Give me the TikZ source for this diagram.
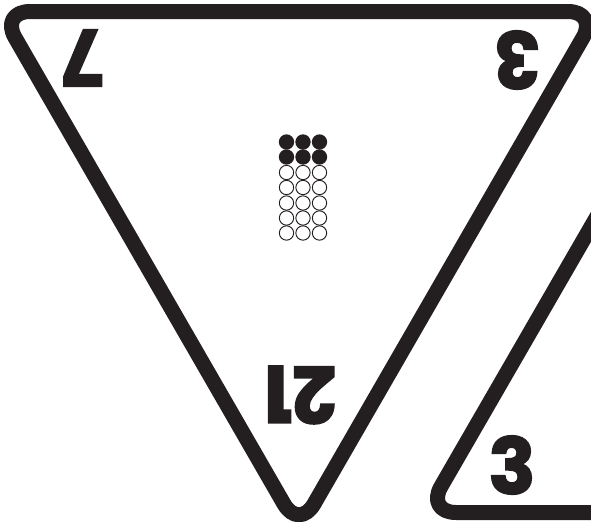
\documentclass[tikz,border=0pt]{standalone}
\usepackage{fontspec}
\setmainfont{Poppins}
\newfontfamily\digitfont[BoldFeatures={FakeBold=2.5}]{Poppins}
\definecolor{ink}{RGB}{35,31,32}

\begin{document}
\begin{tikzpicture}[x=0.03cm,y=-0.03cm]
    \tikzset{
	rim/.style={ink,line width=0.45cm,rounded corners=0.9cm,line join=round},
	numeral/.style={ink,inner sep=0pt,font=\digitfont\fontsize{66}{66}\selectfont\bfseries},
	fulldot/.style={circle,fill=ink,inner sep=0pt,minimum size=0.46cm},
	emptydot/.style={circle,draw=ink,line width=0.8pt,inner sep=0pt,minimum size=0.43cm}
    }
    \clip (0,0) rectangle (591,521);
    \draw[rim] (299,530) -- (0,11.5) -- (598,11.5) -- cycle;
    \draw[rim] (726,-7) -- (426,512.5) -- (1026,512.5) -- cycle;
    \node[numeral,rotate=180] (seven) at (83,58) {7};
    \node[numeral,rotate=180] (three) at (517,60) {3};
    \node[numeral,rotate=180] (twentyone) at (300,395) {21};
    \node[numeral] (threeb) at (512,465) {3};
    \node[fulldot] (a1) at (286.5,142) {};
    \node[fulldot] (a2) at (303,142) {};
    \node[fulldot] (a3) at (319.5,142) {};
    \node[fulldot] (b1) at (286.5,157) {};
    \node[fulldot] (b2) at (303,157) {};
    \node[fulldot] (b3) at (319.5,157) {};
    \node[emptydot] (c1) at (286.5,172.5) {};
    \node[emptydot] (c2) at (303,172.5) {};
    \node[emptydot] (c3) at (319.5,172.5) {};
    \node[emptydot] (d1) at (286.5,187.5) {};
    \node[emptydot] (d2) at (303,187.5) {};
    \node[emptydot] (d3) at (319.5,187.5) {};
    \node[emptydot] (e1) at (286.5,203) {};
    \node[emptydot] (e2) at (303,203) {};
    \node[emptydot] (e3) at (319.5,203) {};
    \node[emptydot] (f1) at (286.5,218) {};
    \node[emptydot] (f2) at (303,218) {};
    \node[emptydot] (f3) at (319.5,218) {};
    \node[emptydot] (g1) at (286.5,233) {};
    \node[emptydot] (g2) at (303,233) {};
    \node[emptydot] (g3) at (319.5,233) {};
\end{tikzpicture}
\end{document}
